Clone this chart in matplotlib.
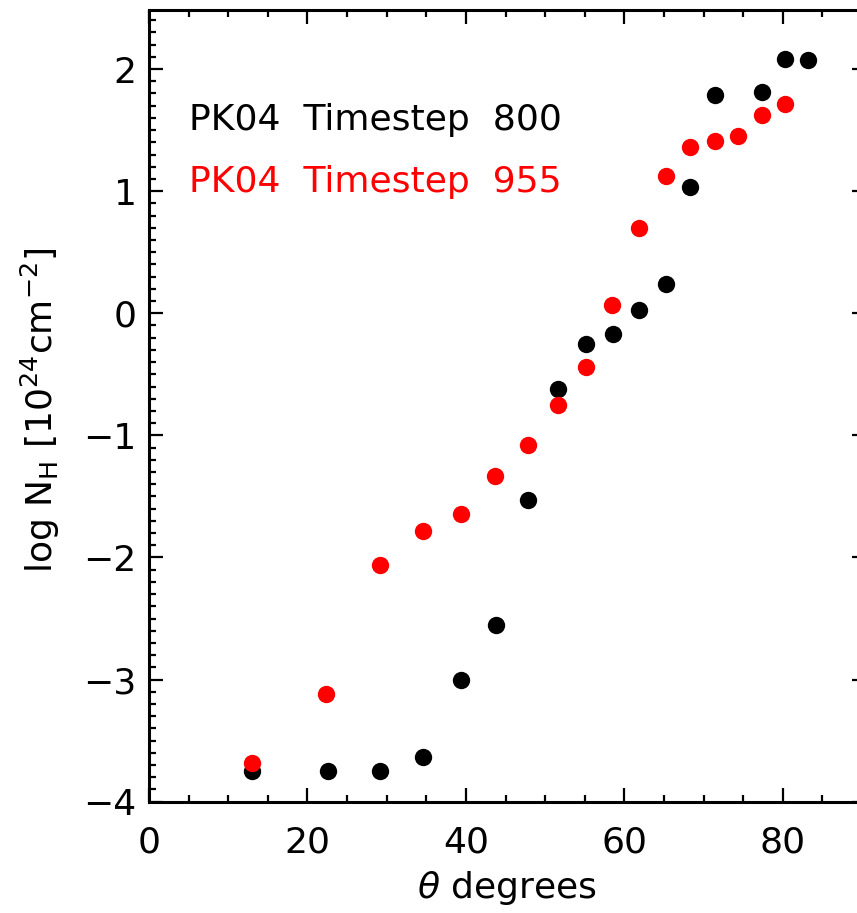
import matplotlib
matplotlib.use("Agg")
import matplotlib.pyplot as plt
from matplotlib.ticker import MultipleLocator

# column density vs angle
theta_800 = [13.0, 22.6, 29.1, 34.6, 39.4, 43.8, 47.8, 51.6, 55.2, 58.6,
             61.9, 65.2, 68.3, 71.5, 77.4, 80.3, 83.2]
lognh_800 = [-3.75, -3.75, -3.75, -3.63, -3.00, -2.55, -1.53, -0.62, -0.25, -0.17,
             0.03, 0.24, 1.03, 1.79, 1.81, 2.08, 2.07]

theta_955 = [13.0, 22.4, 29.2, 34.6, 39.4, 43.7, 47.8, 51.6, 55.2, 58.5,
             61.9, 65.2, 68.3, 71.4, 74.4, 77.4, 80.3]
lognh_955 = [-3.68, -3.12, -2.06, -1.78, -1.64, -1.33, -1.08, -0.75, -0.44, 0.07,
             0.70, 1.12, 1.36, 1.41, 1.45, 1.62, 1.71]

labels = ['PK04  Timestep  800', 'PK04  Timestep  955']
colors = ['black', 'red']

plt.rcParams['font.family'] = ['DejaVu Sans']
plt.rcParams['mathtext.default'] = 'regular'
plt.rcParams['axes.linewidth'] = 2.2

fig = plt.figure(figsize=(8.57, 9.13), dpi=100)
# right spine sits just past the image edge, as in the original
ax = fig.add_axes([0.1739, 0.1219, 0.8366, 0.8667])

ax.plot(theta_800, lognh_800, 'o', color=colors[0], ms=12.5, mew=0, clip_on=False)
ax.plot(theta_955, lognh_955, 'o', color=colors[1], ms=12.5, mew=0, clip_on=False)

ax.set_xlim(0, 90.5)
ax.set_ylim(-4, 2.48)

ax.xaxis.set_major_locator(MultipleLocator(20))
ax.xaxis.set_minor_locator(MultipleLocator(5))
ax.yaxis.set_major_locator(MultipleLocator(1))
ax.yaxis.set_minor_locator(MultipleLocator(0.1))

ax.tick_params(which='both', direction='in', top=True, right=True, width=1.6,
               labelsize=26)
ax.tick_params(which='major', length=10)
ax.tick_params(which='minor', length=5)
ax.tick_params(axis='x', pad=17)
ax.tick_params(axis='y', pad=9)

# legend as coloured text
ax.text(5.05, 1.50, labels[0], color=colors[0], fontsize=26)
ax.text(5.05, 0.99, labels[1], color=colors[1], fontsize=26)

ax.set_xlabel(r'$\mathit{\theta}$ degrees', fontsize=26, labelpad=7)
fig.text(40 / 857, 1 - 410 / 913, r'log N$_H$ [10$^{24}$cm$^{-2}$]',
         rotation=90, fontsize=26, ha='center', va='center')

plt.savefig('out.png', dpi=100)
